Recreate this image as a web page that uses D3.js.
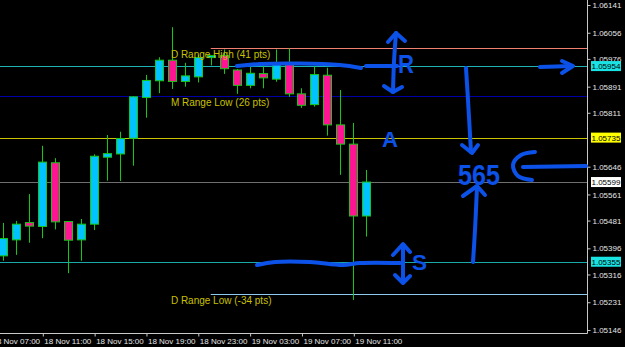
<!DOCTYPE html>
<html>
<head>
    <title>EURUSD H1 ranges</title>
    <style>
        body { margin: 0; background: #000; }
        #chart text { font-family: "Liberation Sans", Arial, sans-serif; }
        .axis-text { fill: #e6e6e6; font-size: 8px; }
        .range-label { fill: #c8c000; font-size: 10px; }
        .hand { stroke: #0c52e8; stroke-width: 4; fill: none; stroke-linecap: round; stroke-linejoin: round; }
        .hand-text { fill: #0c52e8; font-family: "DejaVu Sans", sans-serif; font-weight: bold; }
    </style>
    <script src="https://d3js.org/d3.v7.min.js"></script>
</head>
<body>
<div id="chart"></div>
<script>
    // hourly candles, 18 Nov 08:00 .. 19 Nov 12:00
    var times = ["2014-11-18 08:00","2014-11-18 09:00","2014-11-18 10:00","2014-11-18 11:00","2014-11-18 12:00",
        "2014-11-18 13:00","2014-11-18 14:00","2014-11-18 15:00","2014-11-18 16:00","2014-11-18 17:00",
        "2014-11-18 18:00","2014-11-18 19:00","2014-11-18 20:00","2014-11-18 21:00","2014-11-18 22:00",
        "2014-11-18 23:00","2014-11-19 00:00","2014-11-19 01:00","2014-11-19 02:00","2014-11-19 03:00",
        "2014-11-19 04:00","2014-11-19 05:00","2014-11-19 06:00","2014-11-19 07:00","2014-11-19 08:00",
        "2014-11-19 09:00","2014-11-19 10:00","2014-11-19 11:00","2014-11-19 12:00"];
    var opens  = [1.05373,1.05422,1.05475,1.05463,1.05658,1.05478,1.05422,1.05470,1.05675,1.05685,1.05733,1.05858,1.05909,1.05972,1.05907,1.05921,1.05980,1.05986,1.05942,1.05895,1.05931,1.05914,1.05964,1.05869,1.05836,1.05926,1.05774,1.05715,1.05495];
    var highs  = [1.05474,1.05480,1.05562,1.05710,1.05672,1.05478,1.05486,1.05684,1.05743,1.05753,1.05862,1.05927,1.05981,1.06073,1.05964,1.05988,1.05986,1.06005,1.05945,1.05957,1.05963,1.06005,1.06008,1.05886,1.05954,1.05949,1.05881,1.05780,1.05636];
    var lows   = [1.05358,1.05376,1.05413,1.05427,1.05454,1.05320,1.05358,1.05452,1.05603,1.05602,1.05649,1.05796,1.05871,1.05884,1.05891,1.05904,1.05956,1.05930,1.05869,1.05886,1.05886,1.05906,1.05860,1.05826,1.05830,1.05741,1.05621,1.05238,1.05432];
    var closes = [1.05426,1.05470,1.05464,1.05660,1.05477,1.05421,1.05470,1.05678,1.05686,1.05732,1.05860,1.05910,1.05972,1.05907,1.05924,1.05980,1.05986,1.05946,1.05895,1.05932,1.05918,1.05961,1.05869,1.05834,1.05928,1.05774,1.05715,1.05495,1.05599];

    // horizontal levels
    var levelNames  = ["dHigh", "r", "mLow", "a", "bid", "s", "dLow"];
    var levelPrices = [1.06009, 1.05954, 1.05862, 1.05735, 1.05599, 1.05355, 1.05256];
    var levelStarts = ["2014-11-19 00:00", null, null, null, null, null, "2014-11-19 00:00"];

    var rangeLabels = ["D Range High (41 pts)", "M Range Low (26 pts)", "D Range Low (-34 pts)"];
    var rangeLabelPrices = [1.06009, 1.05862, 1.05256];
    var rangeLabelTime = "2014-11-18 21:00";

    var tagPrices = [1.05954, 1.05735, 1.05599, 1.05355];

    var priceTicks = [1.06141,1.06056,1.05976,1.05891,1.05811,1.05646,1.05561,1.05481,1.05396,1.05316,1.05231,1.05146];
    var timeTicks = ["2014-11-18 07:00","2014-11-18 11:00","2014-11-18 15:00","2014-11-18 19:00",
        "2014-11-18 23:00","2014-11-19 03:00","2014-11-19 07:00","2014-11-19 11:00"];

    var levelColor = { dHigh: "#f08070", r: "#1bb3b3", mLow: "#0000a8", a: "#c8c400", bid: "#6e6e6e", s: "#1aa9a9", dLow: "#8ccbeb" };
    var tagFill = { r: "#19e3e3", a: "#ffff00", bid: "#ffffff", s: "#19e3e3" };

    var width = 625, height = 347;
    var plotRight = 587, plotBottom = 333;
    var parse = d3.timeParse("%Y-%m-%d %H:%M");

    var x = d3.scaleTime()
        .domain([parse("2014-11-18 11:00"), parse("2014-11-19 11:00")])
        .range([42.3, 353.3]);
    var y = d3.scaleLinear()
        .domain([1.05146, 1.06141])
        .range([330, 5]);

    var svg = d3.select("#chart").append("svg")
        .attr("width", width)
        .attr("height", height);

    svg.append("rect").attr("width", width).attr("height", height).attr("fill", "#000");

    svg.append("clipPath").attr("id", "plot")
        .append("rect").attr("width", plotRight).attr("height", plotBottom);

    var plot = svg.append("g").attr("clip-path", "url(#plot)");

    // level lines
    levelPrices.forEach(function(p, i) {
        var x0 = levelStarts[i] ? x(parse(levelStarts[i])) : 0;
        plot.append("line")
            .attr("x1", x0).attr("x2", plotRight)
            .attr("y1", Math.round(y(p)) + 0.5).attr("y2", Math.round(y(p)) + 0.5)
            .attr("stroke", levelColor[levelNames[i]])
            .attr("stroke-width", 1.2);
    });

    // candles
    var candles = times.map(function(t, i) {
        return { t: parse(t), o: opens[i], h: highs[i], l: lows[i], c: closes[i] };
    });
    var bodyW = 8;

    var g = plot.selectAll(".candle").data(candles).enter().append("g").attr("class", "candle");
    g.append("line")
        .attr("x1", function(d) { return Math.round(x(d.t)) + 0.5; })
        .attr("x2", function(d) { return Math.round(x(d.t)) + 0.5; })
        .attr("y1", function(d) { return y(d.h); })
        .attr("y2", function(d) { return y(d.l); })
        .attr("stroke", "#14c814");
    g.append("rect")
        .attr("x", function(d) { return Math.round(x(d.t)) + 0.5 - bodyW / 2; })
        .attr("y", function(d) { return y(Math.max(d.o, d.c)); })
        .attr("width", bodyW)
        .attr("height", function(d) { return Math.max(1, Math.abs(y(d.o) - y(d.c))); })
        .attr("fill", function(d) { return d.c >= d.o ? "#00c3ff" : "#ff1493"; })
        .attr("stroke", "#14c814")
        .attr("stroke-width", 1);

    // range labels
    plot.selectAll(".range-label").data(rangeLabels).enter().append("text")
        .attr("class", "range-label")
        .attr("x", x(parse(rangeLabelTime)) - 1)
        .attr("y", function(d, i) { return y(rangeLabelPrices[i]) + 10; })
        .text(function(d) { return d; });

    // axes frame
    svg.append("line").attr("x1", plotRight + 0.5).attr("x2", plotRight + 0.5).attr("y1", 0).attr("y2", plotBottom + 0.5)
        .attr("stroke", "#c8c8c8");
    svg.append("line").attr("x1", 0).attr("x2", plotRight + 0.5).attr("y1", plotBottom + 0.5).attr("y2", plotBottom + 0.5)
        .attr("stroke", "#c8c8c8");

    // price axis
    var yAxis = svg.append("g")
        .attr("transform", "translate(" + (plotRight + 0.5) + ",0)")
        .call(d3.axisRight(y).tickValues(priceTicks).tickSize(3).tickPadding(2).tickFormat(d3.format(".5f")));
    yAxis.select(".domain").remove();
    yAxis.selectAll("line").attr("stroke", "#c8c8c8");
    yAxis.selectAll("text").attr("class", "axis-text").attr("fill", null).attr("font-family", null).attr("font-size", null);

    // price tags
    var tags = svg.selectAll(".tag").data(tagPrices).enter().append("g").attr("class", "tag")
        .attr("transform", function(p) { return "translate(591," + y(p) + ")"; });
    tags.append("rect")
        .attr("x", 0).attr("y", -5).attr("width", 30).attr("height", 10)
        .attr("fill", function(p) { return tagFill[levelNames[levelPrices.indexOf(p)]]; });
    tags.append("text")
        .attr("x", 0.5).attr("y", 3)
        .attr("font-size", "8px")
        .attr("fill", "#000")
        .text(function(p) { return d3.format(".5f")(p); });

    // time axis
    var xAxis = svg.append("g")
        .attr("transform", "translate(0," + (plotBottom + 0.5) + ")")
        .call(d3.axisBottom(x).tickValues(timeTicks.map(parse)).tickSize(3).tickFormat(d3.timeFormat("%d %b %H:%M")));
    xAxis.select(".domain").remove();
    xAxis.selectAll("line").attr("stroke", "#c8c8c8").attr("transform", "translate(0.5,0)");
    xAxis.selectAll("text").attr("class", "axis-text").attr("fill", null).attr("font-family", null).attr("font-size", null)
        .attr("text-anchor", "start").attr("x", 1.5).attr("dy", null).attr("y", 10);

    // hand-drawn markup on top of the chart (pixel space)
    var hand = svg.append("g");
    var smooth = d3.line().curve(d3.curveCatmullRom);
    var straight = d3.line();
    var strokes = [
        [[237,66],[260,64],[300,63.5],[340,65],[361,68]],
        [[366,66],[397,66]],
        [[396,33],[394,62],[393,92]],
        [[540,67],[572,66]],
        [[466,68],[468,100],[471,152]],
        [[473,262],[475,230],[477,187]],
        [[535,152],[521,155],[513,165],[518,176],[532,180]],
        [[523,167],[586,166]],
        [[257,265],[275,262],[310,262],[343,265],[360,263],[400,263]],
        [[403,245],[403,282]]
    ];
    var heads = [
        [[388,42],[396,33],[405,41]],
        [[384,86],[393,92],[402,87]],
        [[562,61],[573,66],[562,73]],
        [[462,145],[472,153],[478,145]],
        [[463,196],[477,186],[485,195]],
        [[393,255],[403,244],[410,252]],
        [[395,275],[403,283],[410,276]]
    ];
    strokes.forEach(function(s) { hand.append("path").attr("class", "hand").attr("d", smooth(s)); });
    heads.forEach(function(s) { hand.append("path").attr("class", "hand").attr("d", straight(s)); });

    var handText = [
        { t: "R", x: 398, y: 73, size: 25, len: 16 },
        { t: "A", x: 382, y: 147, size: 22, len: 16 },
        { t: "S", x: 412, y: 270, size: 22, len: 15 },
        { t: "565", x: 458, y: 185, size: 30, len: 42 }
    ];
    hand.selectAll(".hand-text").data(handText).enter().append("text")
        .attr("class", "hand-text")
        .attr("x", function(d) { return d.x; })
        .attr("y", function(d) { return d.y; })
        .attr("font-size", function(d) { return d.size + "px"; })
        .attr("textLength", function(d) { return d.len; })
        .attr("lengthAdjust", "spacingAndGlyphs")
        .text(function(d) { return d.t; });
</script>
</body>
</html>
